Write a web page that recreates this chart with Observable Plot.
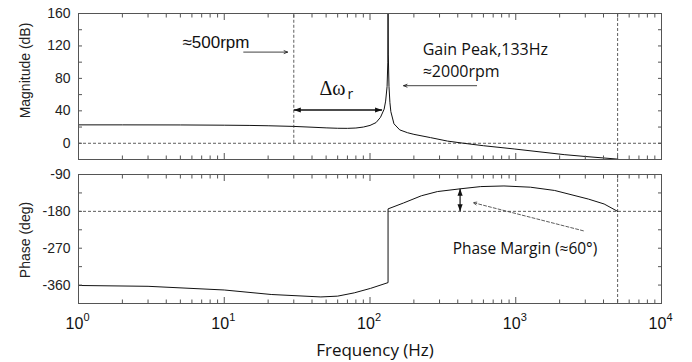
<!DOCTYPE html>
<html>
<head>
<meta charset="utf-8">
<script src="https://cdn.jsdelivr.net/npm/d3@7"></script>
<script src="https://cdn.jsdelivr.net/npm/@observablehq/plot@0.6"></script>
<style>
  body { margin: 0; background: #fff; }
  #chart { position: relative; width: 692px; height: 362px; background: #fff; }
  #chart svg { position: absolute; left: 0; }
</style>
</head>
<body>
<div id="chart"></div>
<script>
// ---------- data ----------
const magFreq = [1, 2, 5, 10, 15, 20, 30, 40, 50, 60, 70, 80, 90, 100, 110, 118, 125, 128, 131, 132.5, 133, 133.5, 135, 137, 139, 146, 160, 181, 200, 260, 340, 440, 600, 975, 2150, 3000, 5000];
const magDb   = [22.7, 22.7, 22.6, 22.3, 22, 21.6, 20.8, 19.8, 19, 18.5, 18.4, 18.8, 20, 22, 25.5, 32, 42, 52, 70, 100, 160, 110, 70, 50, 39, 24, 16.5, 13, 11, 7, 2.7, 0, -3, -7, -14, -16.3, -19.5];

const phFreq = [1, 3, 10, 21, 46, 60, 78, 101, 133, 133, 170, 225, 290, 415, 575, 830, 1260, 1850, 3150, 4040, 5000];
const phDeg  = [-361, -363, -372, -383, -389, -387, -379, -368, -354, -174, -159.5, -142, -131.7, -125, -119.5, -118, -121, -129, -150, -162, -180];

const xMajor = [1, 10, 100, 1000, 10000];
const xExp = ["0", "1", "2", "3", "4"];
const xMinor = [1, 10, 100, 1000].flatMap(d => [2, 3, 4, 5, 6, 7, 8, 9].map(k => k * d));
const magTicks = [-20, 0, 20, 40, 60, 80, 100, 120, 140, 160];
const magLabels = [0, 40, 80, 120, 160];
const phTicks = [-405, -360, -315, -270, -225, -180, -135, -90];
const phLabels = [-360, -270, -180, -90];

const markerFreqs = [30, 5000];   // dashed verticals
const gainCross = 0;              // dB reference line
const phaseRef = -180;            // deg reference line

// annotations (freq, value)
const txt500 = [{f: 5.17, v: 117, t: "≈500rpm"}];
const arr500 = [{f1: 13.6, f2: 27.2, v: 112.4}];
const txtPeak = [{f: 230, v: 109, t: "Gain Peak,133Hz"}, {f: 230, v: 82.3, t: "≈2000rpm"}];
const arrPeak = [{f1: 539, f2: 170, v: 71}];
const txtDw = [{f: 45, v: 59.5}];
const txtDwSub = [{f: 70, v: 55}];
const dwArrow = [{f1: 30, f2: 121, v: 41}];
const pmArrow = [{f: 415, v1: -125, v2: -180}];
const pmText = [{f: 369, v: -284, t: "Phase Margin (≈60°)"}];
const pmDashed = [{f1: 2910, v1: -227.5, f2: 510, v2: -158.7}];

const magData = magFreq.map((f, i) => ({f, v: magDb[i]}));
const phData = phFreq.map((f, i) => ({f, v: phDeg[i]}));
const xLab = xMajor.map((f, i) => ({f, e: xExp[i]}));

// ---------- styles ----------
const dash = {stroke: "#333", strokeWidth: 0.8, strokeDasharray: "3,2"};
const axisGray = "#555";
const sansH = "'Liberation Sans', Arial, Helvetica, sans-serif";
const sansC = "'Open Sans', Lato, sans-serif";
const head = {draw(ctx) { ctx.moveTo(0, 0); ctx.lineTo(-2.6, 7); ctx.lineTo(2.6, 7); ctx.closePath(); }};
const fmt = d => String(d);

function frameAxes(yTicks, yLabels) {
  return [
    Plot.axisX({anchor: "bottom", ticks: xMinor, tickSize: -3.5, fill: "none", label: null, stroke: axisGray}),
    Plot.axisX({anchor: "bottom", ticks: xMajor, tickSize: -6, fill: "none", label: null, stroke: axisGray}),
    Plot.axisX({anchor: "top", ticks: xMinor, tickSize: -3.5, fill: "none", label: null, stroke: axisGray}),
    Plot.axisX({anchor: "top", ticks: xMajor, tickSize: -6, fill: "none", label: null, stroke: axisGray}),
    Plot.axisY({anchor: "left", ticks: yTicks, tickSize: -4, fill: "none", label: null, stroke: axisGray}),
    Plot.axisY({anchor: "right", ticks: yTicks, tickSize: -4, fill: "none", label: null, stroke: axisGray}),
    Plot.axisY({anchor: "left", ticks: yLabels, tickFormat: fmt, tickSize: 0, tickPadding: 8, label: null, fontSize: 14, fill: "#222"}),
    Plot.frame({stroke: axisGray, strokeWidth: 1})
  ];
}

const baseStyle = {fontFamily: sansH, fontSize: "14px", color: "#111", background: "transparent", overflow: "visible"};

// ---------- magnitude ----------
const magPlot = Plot.plot({
  width: 692, height: 166,
  marginLeft: 78, marginRight: 31, marginTop: 13, marginBottom: 7,
  style: baseStyle,
  x: {type: "log", domain: [1, 1e4]},
  y: {domain: [-20, 160]},
  marks: [
    Plot.ruleY([gainCross], dash),
    Plot.ruleX([markerFreqs[0]], {y1: 0, y2: 160, ...dash}),
    Plot.ruleX([markerFreqs[1]], dash),
    Plot.line(magData, {x: "f", y: "v", stroke: "#111", strokeWidth: 1}),
    ...frameAxes(magTicks, magLabels),
    Plot.text(["Magnitude (dB)"], {frameAnchor: "left", textAnchor: "middle", dx: -53, dy: -16, rotate: -90, fontSize: 14, fill: "#222"}),
    Plot.text(txt500, {x: "f", y: "v", text: "t", textAnchor: "start", lineAnchor: "bottom", fontSize: 17, fill: "#111"}),
    Plot.arrow(arr500, {x1: "f1", x2: "f2", y1: "v", y2: "v", stroke: "#111", strokeWidth: 0.8, headLength: 7, headAngle: 45}),
    Plot.text(txtPeak, {x: "f", y: "v", text: "t", textAnchor: "start", lineAnchor: "bottom", fontSize: 16, fontFamily: sansC, fill: "#111"}),
    Plot.arrow(arrPeak, {x1: "f1", x2: "f2", y1: "v", y2: "v", stroke: "#111", strokeWidth: 0.8, headLength: 7, headAngle: 45}),
    Plot.text(txtDw, {x: "f", y: "v", text: () => "Δω", textAnchor: "start", lineAnchor: "bottom", fontSize: 20, fontFamily: "'Liberation Serif', 'Times New Roman', serif", fill: "#111"}),
    Plot.text(txtDwSub, {x: "f", y: "v", text: () => "r", textAnchor: "start", lineAnchor: "bottom", fontSize: 14, fontFamily: sansC, fill: "#111"}),
    Plot.link(dwArrow, {x1: "f1", x2: "f2", y1: "v", y2: "v", stroke: "#111", strokeWidth: 1.6}),
    Plot.dot(dwArrow, {x: "f1", y: "v", symbol: head, rotate: -90, fill: "#111", stroke: "none"}),
    Plot.dot(dwArrow, {x: "f2", y: "v", symbol: head, rotate: 90, fill: "#111", stroke: "none"})
  ]
});

// ---------- phase ----------
const phPlot = Plot.plot({
  width: 692, height: 196,
  marginLeft: 78, marginRight: 31, marginTop: 8, marginBottom: 59,
  style: baseStyle,
  x: {type: "log", domain: [1, 1e4]},
  y: {domain: [-405, -90]},
  marks: [
    Plot.ruleY([phaseRef], dash),
    Plot.ruleX([markerFreqs[1]], dash),
    Plot.line(phData, {x: "f", y: "v", stroke: "#111", strokeWidth: 1}),
    ...frameAxes(phTicks, phLabels),
    Plot.text(xLab, {x: "f", frameAnchor: "bottom", lineAnchor: "bottom", textAnchor: "middle", dx: -4, dy: 25, text: () => "10", fontSize: 16, fill: "#111"}),
    Plot.text(xLab, {x: "f", frameAnchor: "bottom", lineAnchor: "bottom", textAnchor: "start", dx: 5, dy: 17, text: "e", fontSize: 11, fill: "#111"}),
    Plot.text(["Frequency (Hz)"], {frameAnchor: "bottom", lineAnchor: "bottom", dy: 52, dx: 5, fontSize: 17, fontFamily: sansC, fill: "#111"}),
    Plot.text(["Phase (deg)"], {frameAnchor: "left", textAnchor: "middle", dx: -53, dy: 1, rotate: -90, fontSize: 14, fill: "#222"}),
    Plot.link(pmArrow, {x1: "f", x2: "f", y1: "v1", y2: "v2", stroke: "#111", strokeWidth: 1.2}),
    Plot.dot(pmArrow, {x: "f", y: "v1", symbol: head, rotate: 0, fill: "#111", stroke: "none"}),
    Plot.dot(pmArrow, {x: "f", y: "v2", symbol: head, rotate: 180, fill: "#111", stroke: "none"}),
    Plot.arrow(pmDashed, {x1: "f1", y1: "v1", x2: "f2", y2: "v2", stroke: "#333", strokeWidth: 0.8, strokeDasharray: "3,2", headLength: 7, headAngle: 45}),
    Plot.text(pmText, {x: "f", y: "v", text: "t", textAnchor: "start", lineAnchor: "bottom", fontSize: 15.5, fontFamily: sansC, fill: "#111"})
  ]
});

const chart = document.getElementById("chart");
magPlot.style.top = "0px";
phPlot.style.top = "166px";
chart.append(magPlot, phPlot);
</script>
</body>
</html>
